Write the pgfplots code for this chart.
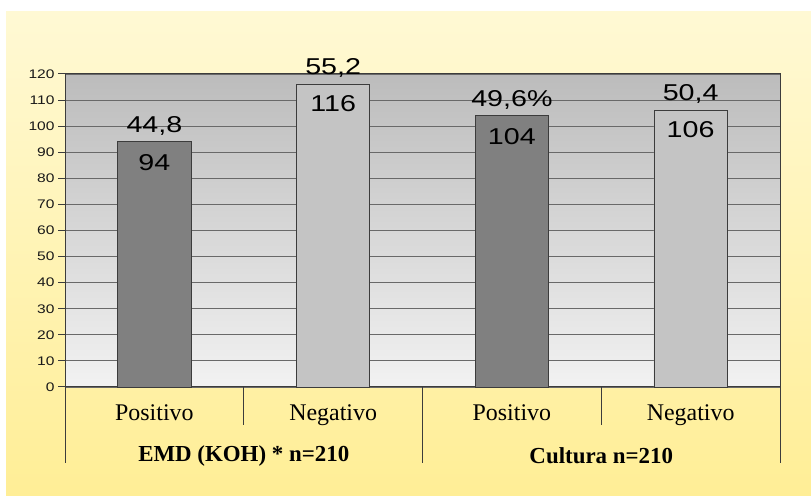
\documentclass[border=0pt]{standalone}
\usepackage{pgfplots}
\pgfplotsset{compat=1.18}
\usepackage{pgfplotstable}
\usepackage{fontspec}
\setmainfont{Liberation Serif}
\newfontfamily\arial{Liberation Sans}
\newcommand\sx[1]{\scalebox{1.25}[1]{#1}}

\definecolor{bgtop}{RGB}{255,249,212}
\definecolor{bgbot}{RGB}{255,238,150}
\definecolor{plottop}{RGB}{188,188,188}
\definecolor{plotbot}{RGB}{242,242,242}
\definecolor{darkbar}{RGB}{128,128,128}
\definecolor{lightbar}{RGB}{196,196,196}
\definecolor{gridc}{RGB}{105,105,105}
\definecolor{linec}{RGB}{60,60,60}

% positivo / negativo, count and percent
\pgfplotstableread{
x y lab
0 94 44,8
2 104 49,6\%
}\tblpos
\pgfplotstableread{
x y lab
1 116 55,2
3 106 50,4
}\tblneg

\begin{document}
\begin{tikzpicture}[x=1bp,y=1bp]
\fill[white] (0,0) rectangle (811,496);
\shade[top color=bgtop, bottom color=bgbot] (6,0) rectangle (811,484);
\begin{axis}[
  at={(65bp,109bp)}, anchor=south west,
  scale only axis, width=715bp, height=313bp,
  xmin=-0.5, xmax=3.5, ymin=0, ymax=120,
  ytick={0,10,...,120},
  ymajorgrids, grid style={gridc, line width=0.9bp},
  axis background/.style={shade, top color=plottop, bottom color=plotbot},
  axis line style={linec, line width=1bp},
  xtick={0,1,2,3},
  xticklabels={Positivo,Negativo,Positivo,Negativo},
  xticklabel style={font=\fontsize{24}{28}\selectfont, anchor=base, yshift=-27bp},
  x tick style={draw=none},
  y tick style={linec, line width=1bp},
  ytick pos=left, tick align=outside, major tick length=7bp,
  yticklabel style={font=\arial\fontsize{12.5}{15}\selectfont, text=black!90},
  yticklabel={\sx{\pgfmathprintnumber{\tick}}},
  /pgf/number format/assume math mode=true,
  clip=false,
  bar width=0.41,
  every node near coord/.append style={inner sep=0pt, text=black,
    font=\arial\fontsize{23}{26}\selectfont},
]
\addplot[ybar, bar shift=0pt, fill=darkbar, draw=linec, line width=0.9bp,
  point meta=y, nodes near coords={\sx{\pgfmathprintnumber{\pgfplotspointmeta}}},
  nodes near coords style={anchor=north, yshift=-12bp}]
  table[x=x, y=y] {\tblpos};
\addplot[ybar, bar shift=0pt, fill=lightbar, draw=linec, line width=0.9bp,
  point meta=y, nodes near coords={\sx{\pgfmathprintnumber{\pgfplotspointmeta}}},
  nodes near coords style={anchor=north, yshift=-11bp}]
  table[x=x, y=y] {\tblneg};
\addplot[draw=none, mark=none, point meta=explicit symbolic,
  nodes near coords={\sx{\pgfplotspointmeta}},
  nodes near coords style={anchor=base, yshift=9bp}]
  table[x=x, y=y, meta=lab] {\tblpos};
\addplot[draw=none, mark=none, point meta=explicit symbolic,
  nodes near coords={\sx{\pgfplotspointmeta}},
  nodes near coords style={anchor=base, yshift=10bp}]
  table[x=x, y=y, meta=lab] {\tblneg};
% category separators below the axis
\draw[linec, line width=1bp] (axis cs:-0.5,0) -- ([yshift=-76bp]axis cs:-0.5,0);
\draw[linec, line width=1bp] (axis cs:1.5,0) -- ([yshift=-76bp]axis cs:1.5,0);
\draw[linec, line width=1bp] (axis cs:3.5,0) -- ([yshift=-76bp]axis cs:3.5,0);
\draw[linec, line width=1bp] (axis cs:0.5,0) -- ([yshift=-38bp]axis cs:0.5,0);
\draw[linec, line width=1bp] (axis cs:2.5,0) -- ([yshift=-38bp]axis cs:2.5,0);
\node[font=\bfseries\fontsize{23}{26}\selectfont] at ([yshift=-69bp]axis cs:0.5,0) {EMD (KOH) * n=210};
\node[font=\bfseries\fontsize{23}{26}\selectfont] at ([yshift=-69bp]axis cs:2.5,0) {Cultura n=210};
\end{axis}
\end{tikzpicture}
\end{document}
